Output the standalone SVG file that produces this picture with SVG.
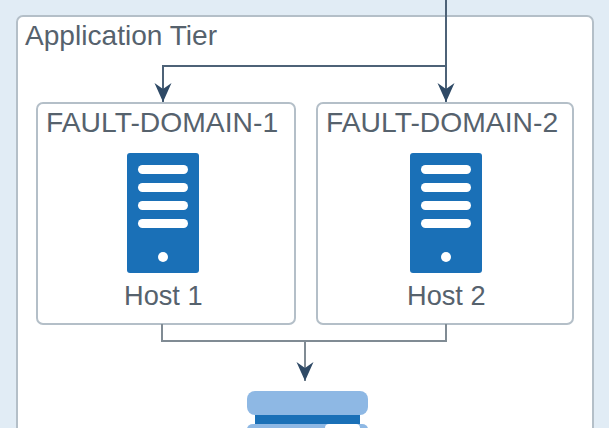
<svg xmlns="http://www.w3.org/2000/svg" width="609" height="428" viewBox="0 0 609 428">
<defs>
<marker id="arrow" markerUnits="userSpaceOnUse" markerWidth="20" markerHeight="18" refX="19" refY="8.5" orient="auto" viewBox="0 0 20 17"><path d="M0 0L6 8.5L0 17L19 8.5Z" fill="#2f4a66"/></marker>
<g id="srv"><rect x="0" y="0" width="72" height="120" rx="3" fill="#1a70b7"/><g fill="#fff"><rect x="11" y="12" width="50" height="9" rx="4.5"/><rect x="11" y="30" width="50" height="9" rx="4.5"/><rect x="11" y="48" width="50" height="9" rx="4.5"/><rect x="11" y="66" width="50" height="9" rx="4.5"/><circle cx="36" cy="104" r="5"/></g></g>
</defs>
<style>
.t{font-family:"Liberation Sans",Arial,sans-serif;font-size:28.1px;fill:#56626d}
.d{font-size:28.3px}
.h{font-size:27.2px}
.box{fill:#fff;stroke:#b4bfc8;stroke-width:2}
.c{fill:none;stroke:#4d6277;stroke-width:2}
.g{fill:none;stroke:#808b94;stroke-width:2}
</style>
<rect width="609" height="428" fill="#e1ecf5"/>
<g id="tier"><rect class="box" x="17" y="16" width="576" height="430" rx="6"/><text class="t" x="25" y="45">Application Tier</text></g>
<g id="fd1"><rect class="box" x="37" y="103" width="258" height="221" rx="6"/><text class="t d" x="46" y="132">FAULT-DOMAIN-1</text><use href="#srv" x="127" y="153"/><text class="t h" x="124" y="305">Host 1</text></g>
<g id="fd2"><rect class="box" x="317" y="103" width="256" height="221" rx="6"/><text class="t d" x="326" y="132">FAULT-DOMAIN-2</text><use href="#srv" x="410" y="153"/><text class="t h" x="407" y="305">Host 2</text></g>
<g id="db"><rect x="247" y="391" width="121" height="24" rx="8" fill="#8eb8e4"/><rect x="255" y="415" width="105" height="9" fill="#1a70b7"/><rect x="247" y="424" width="121" height="10" rx="6" fill="#8eb8e4"/><rect x="325" y="424" width="35" height="10" rx="4" fill="#fff"/></g>
<g id="connectors">
<path class="c" d="M446 0V102" marker-end="url(#arrow)"/>
<path class="c" d="M446 66H163V102" marker-end="url(#arrow)"/>
<path class="g" d="M162 324V341H446V324"/>
<path class="g" d="M305 341V381" marker-end="url(#arrow)"/>
</g>
</svg>
